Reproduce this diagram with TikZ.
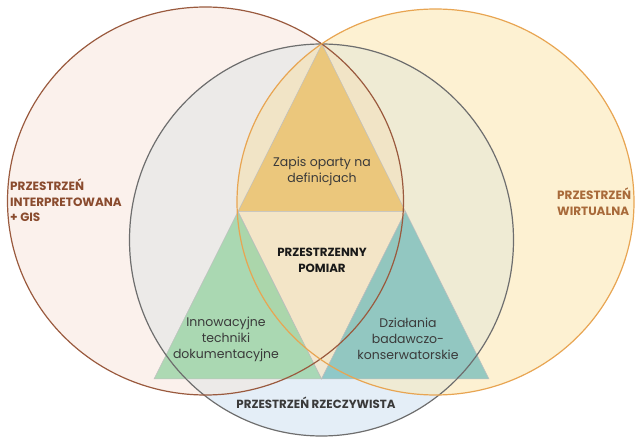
\documentclass[tikz,border=0pt]{standalone}
\usepackage{fontspec}
\setmainfont{Poppins}
\usetikzlibrary{positioning}
\definecolor{Lfill}{HTML}{FBF1EC}
\definecolor{Rfill}{HTML}{FDF1D2}
\definecolor{Mfill}{HTML}{E4EEF7}
\definecolor{LMfill}{HTML}{ECEAE8}
\definecolor{RMfill}{HTML}{EFEBD4}
\definecolor{LRfill}{HTML}{F6E8CC}
\definecolor{LRMfill}{HTML}{F1E4C6}
\definecolor{Lline}{HTML}{9A5A3E}
\definecolor{Rline}{HTML}{E8A552}
\definecolor{Mline}{HTML}{6E6E6E}
\definecolor{Ttop}{HTML}{EAC068}
\definecolor{Tmid}{HTML}{F4E6C8}
\definecolor{Tleft}{HTML}{98D3A4}
\definecolor{Tright}{HTML}{78BEBC}
\definecolor{Ltext}{HTML}{8A4B2E}
\definecolor{Rtext}{HTML}{A86A3A}
\definecolor{Dtext}{HTML}{3A3A3A}
\tikzset{
  tri/.style={draw=gray!50, line width=0.5pt, fill opacity=0.78},
  circL/.style={draw=Lline, line width=1.2pt},
  circR/.style={draw=Rline, line width=1.2pt},
  circM/.style={draw=Mline, line width=1.2pt},
  sidelbl/.style={font=\bfseries\fontsize{12}{15.5}\selectfont, align=left, inner sep=0pt},
  innerlbl/.style={font=\fontsize{12.5}{16}\selectfont, text=Dtext, align=center, inner sep=0pt},
  boldlbl/.style={font=\bfseries\fontsize{11.8}{16}\selectfont, align=center, inner sep=0pt},
}
\begin{document}
\begin{tikzpicture}[x=1pt,y=-1pt]
\useasboundingbox (0,0) rectangle (635,438);
\def\Lpath{(205.5,201) ellipse [x radius=198pt, y radius=194pt]}
\def\Rpath{(435.5,202) ellipse [x radius=198.5pt, y radius=193pt]}
\def\Mpath{(321.5,240) ellipse [x radius=192pt, y radius=196pt]}
% region fills
\fill[Lfill] \Lpath;
\fill[Rfill] \Rpath;
\fill[Mfill] \Mpath;
\begin{scope}\clip \Lpath; \fill[LMfill] \Mpath; \end{scope}
\begin{scope}\clip \Rpath; \fill[RMfill] \Mpath; \end{scope}
\begin{scope}\clip \Lpath; \fill[LRfill] \Rpath; \end{scope}
\begin{scope}\clip \Lpath; \clip \Rpath; \fill[LRMfill] \Mpath; \end{scope}
% triangle vertices
\coordinate (A) at (322,44);
\coordinate (BL) at (154,379);
\coordinate (BR) at (489,379);
\coordinate (ML) at (238,211.5);
\coordinate (MR) at (405.5,211.5);
\coordinate (MB) at (321.5,379);
\filldraw[tri, fill=Ttop] (A) -- (ML) -- (MR) -- cycle;
\filldraw[tri, fill=Tmid] (ML) -- (MR) -- (MB) -- cycle;
\filldraw[tri, fill=Tleft] (ML) -- (BL) -- (MB) -- cycle;
\filldraw[tri, fill=Tright] (MR) -- (MB) -- (BR) -- cycle;
% circle outlines
\draw[circM] \Mpath;
\draw[circL] \Lpath;
\draw[circR] \Rpath;
% labels
\node[sidelbl, text=Ltext, anchor=north west] (interp) at (10,179) {PRZESTRZEŃ\\INTERPRETOWANA\\+ GIS};
\node[sidelbl, text=Rtext, anchor=north west] (virt) at (557,188) {PRZESTRZEŃ\\WIRTUALNA};
\node[innerlbl] (zapis) at (322,171) {Zapis oparty na\\definicjach};
\node[boldlbl, text=black!90] (pomiar) at (322,260) {PRZESTRZENNY\\POMIAR};
\node[innerlbl] (innow) at (226,339) {Innowacyjne\\techniki\\dokumentacyjne};
\node[innerlbl] (dzial) at (408,339) {Działania\\badawczo-\\konserwatorskie};
\node[boldlbl, text=Dtext] (rzecz) at (316,403) {PRZESTRZEŃ RZECZYWISTA};
\end{tikzpicture}
\end{document}
